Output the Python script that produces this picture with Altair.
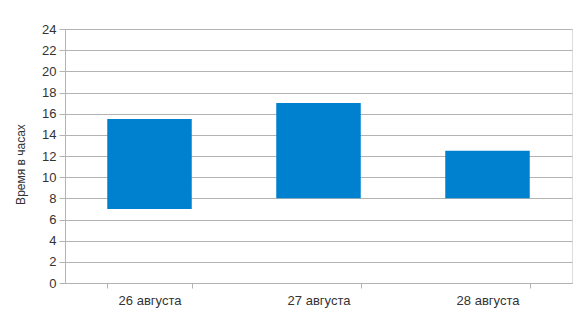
import altair as alt
import pandas as pd

days = ["26 августа", "27 августа", "28 августа"]
start_hours = [7, 8, 8]
end_hours = [15.5, 17, 12.5]

df = pd.DataFrame({"day": days, "start": start_hours, "end": end_hours})

grid = "#b3b3b3"

chart = alt.Chart(df).mark_bar(color="#0081cf").encode(
    x=alt.X("day:N", sort=days, title=None,
            scale=alt.Scale(paddingInner=0.5, paddingOuter=0.25),
            axis=alt.Axis(labelAngle=0, tickBand="extent", domainColor=grid, tickColor=grid,
                          tickSize=5, labelFontSize=13, labelColor="#333333",
                          labelFont="Liberation Sans", labelPadding=6, grid=False)),
    y=alt.Y("start:Q", title="Время в часах",
            scale=alt.Scale(domain=[0, 24], nice=False),
            axis=alt.Axis(values=list(range(0, 25, 2)), gridColor=grid, domainColor=grid,
                          tickColor=grid, tickSize=6, labelFontSize=13, labelColor="#333333",
                          labelFont="Liberation Sans", labelPadding=3,
                          titleFont="Liberation Sans", titleFontSize=12, titleFontWeight="normal",
                          titleColor="#333333", titlePadding=14, titleY=135)),
    y2="end:Q",
).properties(
    width=507, height=254,
    autosize=alt.AutoSizeParams(type="none"),
    padding={"left": 65, "top": 29, "right": 14, "bottom": 45},
).configure_view(stroke=grid).configure(background="white")

chart.save("out.html", embed_options={"renderer": "svg", "actions": False})
